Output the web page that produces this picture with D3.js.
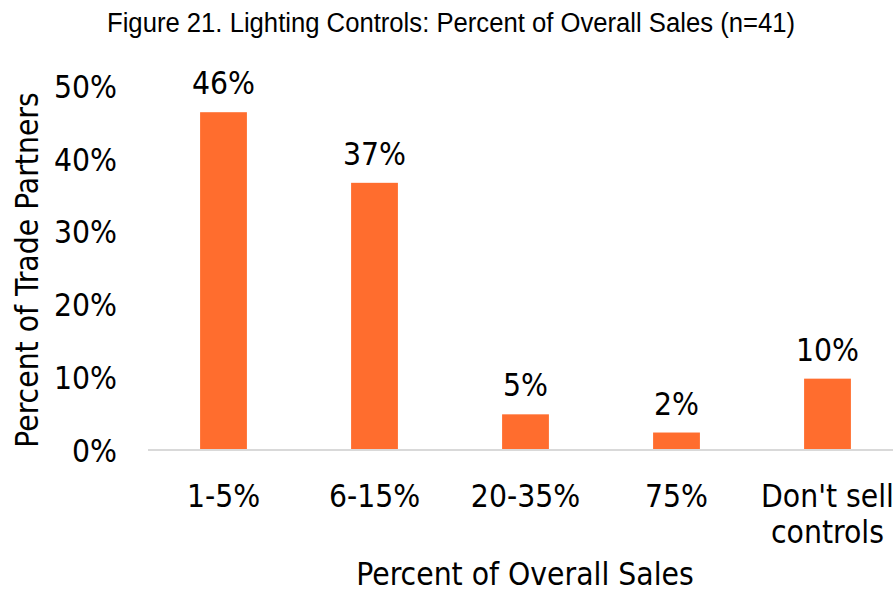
<!DOCTYPE html>
<html>
    <head>
        <meta charset="utf-8">
        <style>
        html, body {
            margin: 0px;
            background: #fff;
        }
        svg {
            display: block;
        }
        .label {
            font-family: "DejaVu Sans Condensed", "DejaVu Sans", sans-serif;
            fill: #000;
        }
        .title {
            font-family: "Liberation Sans", Arial, sans-serif;
            fill: #000;
        }
        </style>
    </head>
    <body>
        <svg class="chart" width="893" height="592"></svg>
        <script src="https://d3js.org/d3.v7.min.js"></script>
        <script>
            var categories = [["1-5%"], ["6-15%"], ["20-35%"], ["75%"], ["Don't sell", "controls"]];
            var values = [0.464, 0.367, 0.049, 0.024, 0.098];
            var valueLabels = ["46%", "37%", "5%", "2%", "10%"];
            var yTicks = [0, 0.1, 0.2, 0.3, 0.4, 0.5];

            var fs = 31.5;

            var chart = d3.select(".chart");

            var margin = {top: 86, left: 148, right: -10, bottom: 142},
                width = 893 - margin.left - margin.right,
                height = 592 - margin.top - margin.bottom;

            var keys = categories.map(function(c) { return c.join(" "); });

            var x = d3.scaleBand().domain(keys).range([0, width])
                      .paddingInner(0.69).paddingOuter(0.345);
            var y = d3.scaleLinear().domain([0, 0.5]).range([height, 0]);

            var g = chart.append("g")
                         .attr("transform", "translate(" + margin.left + "," + margin.top + ")");

            // title
            chart.append("text")
                 .attr("class", "title")
                 .attr("x", 451).attr("y", 32)
                 .attr("text-anchor", "middle")
                 .attr("font-size", 27)
                 .attr("textLength", 688)
                 .attr("lengthAdjust", "spacingAndGlyphs")
                 .text("Figure 21. Lighting Controls: Percent of Overall Sales (n=41)");

            // y axis (labels only)
            var yAxis = d3.axisLeft(y).tickValues(yTicks).tickSize(0).tickPadding(31)
                          .tickFormat(d3.format(".0%"));
            var ya = g.append("g").call(yAxis);
            ya.select(".domain").remove();
            ya.selectAll("text").attr("class", "label").attr("font-size", fs)
              .attr("font-family", null).attr("dy", "0.36em");

            // bars
            g.selectAll("rect.bar")
             .data(values)
             .enter().append("rect")
             .attr("class", "bar")
             .attr("x", function(d, i) { return x(keys[i]); })
             .attr("width", x.bandwidth())
             .attr("y", function(d) { return y(d); })
             .attr("height", function(d) { return height - y(d); })
             .attr("fill", "#ff6d2e");

            // value labels
            g.selectAll("text.val")
             .data(values)
             .enter().append("text")
             .attr("class", "label val")
             .attr("x", function(d, i) { return x(keys[i]) + x.bandwidth() / 2; })
             .attr("y", function(d) { return y(d) - 18; })
             .attr("text-anchor", "middle")
             .attr("font-size", fs)
             .text(function(d, i) { return valueLabels[i]; });

            // x axis line
            g.append("line")
             .attr("x1", 0).attr("x2", width)
             .attr("y1", height).attr("y2", height)
             .attr("stroke", "#d9d9d9").attr("stroke-width", 2);

            // x tick labels
            var xl = g.selectAll("text.xl")
                      .data(categories)
                      .enter().append("text")
                      .attr("class", "label xl")
                      .attr("x", function(d, i) { return x(keys[i]) + x.bandwidth() / 2; })
                      .attr("y", height + 57)
                      .attr("text-anchor", "middle")
                      .attr("font-size", fs);
            xl.selectAll("tspan")
              .data(function(d) { return d; })
              .enter().append("tspan")
              .attr("x", function() { return d3.select(this.parentNode).attr("x"); })
              .attr("dy", function(d, i) { return i === 0 ? 0 : 36; })
              .text(function(d) { return d; });

            // axis titles
            chart.append("text")
                 .attr("class", "label")
                 .attr("x", 525).attr("y", 585)
                 .attr("text-anchor", "middle")
                 .attr("font-size", fs)
                 .text("Percent of Overall Sales");

            chart.append("text")
                 .attr("class", "label")
                 .attr("transform", "translate(38,270) rotate(-90)")
                 .attr("text-anchor", "middle")
                 .attr("font-size", fs)
                 .text("Percent of Trade Partners");
        </script>
    </body>
</html>
